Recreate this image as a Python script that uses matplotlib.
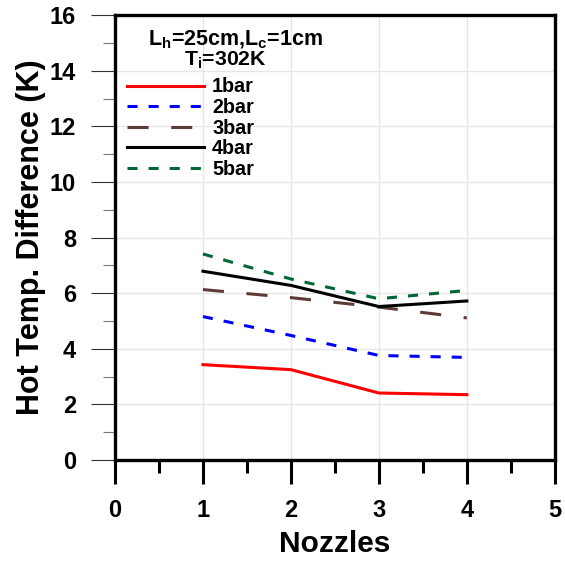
import matplotlib
matplotlib.use("Agg")
import matplotlib.pyplot as plt
from matplotlib.ticker import MultipleLocator

plt.rcParams['font.family'] = ['Liberation Sans', 'DejaVu Sans']
plt.rcParams['font.weight'] = 'bold'
plt.rcParams['mathtext.fontset'] = 'custom'
plt.rcParams['mathtext.bf'] = 'Liberation Sans:bold'
plt.rcParams['mathtext.rm'] = 'Liberation Sans:bold'

nozzles = [1, 2, 3, 4]
dt_1bar = [3.43, 3.25, 2.41, 2.35]
dt_2bar = [5.16, 4.48, 3.76, 3.69]
dt_3bar = [6.13, 5.84, 5.50, 5.11]
dt_4bar = [6.79, 6.28, 5.52, 5.72]
dt_5bar = [7.41, 6.51, 5.80, 6.10]
labels = ['1bar', '2bar', '3bar', '4bar', '5bar']

fig = plt.figure(figsize=(5.65, 5.61), dpi=100)
ax = fig.add_axes([0.2035, 0.18, 0.7785, 0.793])

lw = 2.2
ax.plot(nozzles, dt_1bar, color='#ff0000', lw=lw, label=labels[0])
ax.plot(nozzles, dt_2bar, color='#0000ff', lw=lw, dashes=(3.3, 3.6), label=labels[1])
ax.plot(nozzles, dt_3bar, color='#5e3a36', lw=lw, dashes=(6.9, 7.4), label=labels[2])
ax.plot(nozzles, dt_4bar, color='#000000', lw=lw, label=labels[3])
ax.plot(nozzles, dt_5bar, color='#006633', lw=lw, dashes=(3.3, 3.6), label=labels[4])

ax.set_xlim(0, 5)
ax.set_ylim(0, 16)
ax.xaxis.set_major_locator(MultipleLocator(1))
ax.xaxis.set_minor_locator(MultipleLocator(0.5))
ax.yaxis.set_major_locator(MultipleLocator(2))
ax.yaxis.set_minor_locator(MultipleLocator(1))

ax.grid(True, which='major', color='#e6e6e6', lw=1.0)
ax.set_axisbelow(True)

for s in ax.spines.values():
    s.set_linewidth(2.4)

ax.tick_params(axis='x', which='major', direction='out', length=17, width=2.2,
               pad=11, labelsize=17)
ax.tick_params(axis='x', which='minor', direction='out', length=9, width=2.2)
ax.tick_params(axis='y', which='major', direction='out', length=17, width=0.8,
               pad=11, labelsize=17, color='#333333')
ax.tick_params(axis='y', which='minor', direction='out', length=9, width=0.8,
               color='#777777')
for t in ax.get_xticklabels() + ax.get_yticklabels():
    t.set_fontweight('bold')

ax.set_xlabel('Nozzles', fontsize=21.5, fontweight='bold', labelpad=6)
ax.set_ylabel('Hot Temp. Difference (K)', fontsize=22, fontweight='bold', labelpad=3)

ax.text(0.275, 0.944, r'L$_\mathbf{h}$=25cm,L$_\mathbf{c}$=1cm', transform=ax.transAxes,
        ha='center', va='center', fontsize=15.5, fontweight='bold')
ax.text(0.25, 0.899, r'T$_\mathbf{i}$=302K', transform=ax.transAxes,
        ha='center', va='center', fontsize=15.3, fontweight='bold')

leg = ax.legend(loc='upper left', bbox_to_anchor=(0.027, 0.860), frameon=False,
                fontsize=14.2, handlelength=3.9, handletextpad=0.42,
                labelspacing=0.08, borderaxespad=0.0, borderpad=0.0)
for t in leg.get_texts():
    t.set_fontweight('bold')

fig.savefig('out.png', dpi=100)
